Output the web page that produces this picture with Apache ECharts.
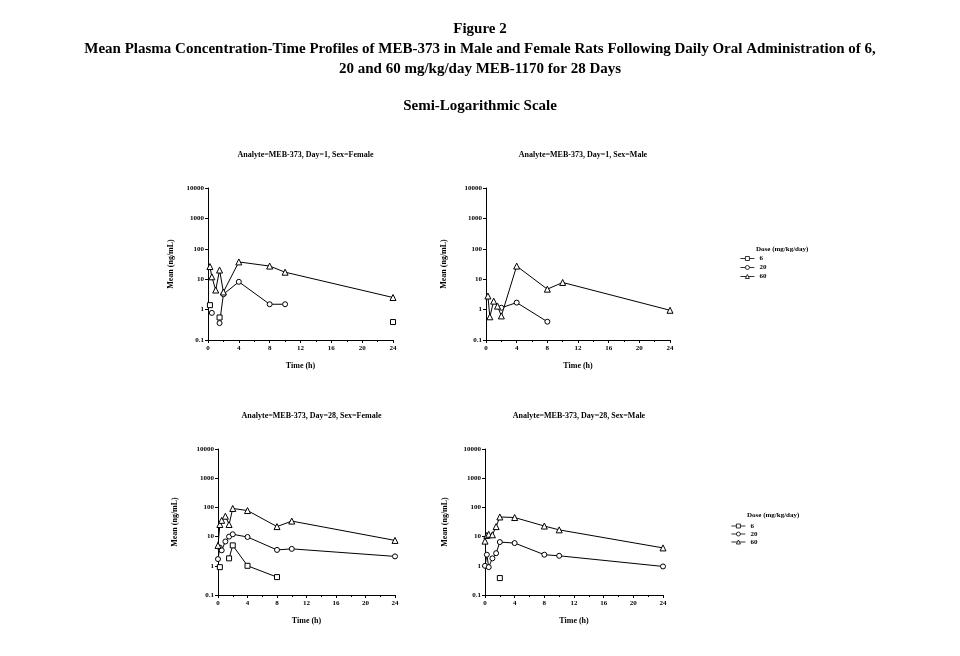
<!DOCTYPE html>
<html><head><meta charset="utf-8">
<script src="https://cdn.jsdelivr.net/npm/echarts@6/dist/echarts.min.js"></script>
<style>html,body{margin:0;padding:0;background:#fff}#c{width:960px;height:656px}</style>
</head><body><div id="c"></div>
<script>
// Sampling times (h)
const times = [0, 0.25, 0.5, 1, 1.5, 2, 4, 8, 10, 24];
const doseNames = ['6', '20', '60'];
const panelTitles = [
  'Analyte=MEB-373, Day=1, Sex=Female',
  'Analyte=MEB-373, Day=1, Sex=Male',
  'Analyte=MEB-373, Day=28, Sex=Female',
  'Analyte=MEB-373, Day=28, Sex=Male'
];
const xTicks = [0, 4, 8, 12, 16, 20, 24];
const yTicks = [0.1, 1, 10, 100, 1000, 10000];
// Day 1 Female
const d1f6  = [null, 1.4, null, null, 0.55, null, null, null, null, 0.39];
const d1f20 = [null, null, 0.78, null, 0.36, 3.2, 8.2, 1.5, 1.5, null];
const d1f60 = [null, 26, 12, 4.4, 20, 3.8, 37, 27, 17, 2.5];
// Day 1 Male
const d1m6  = [null, null, null, null, null, null, null, null, null, null];
const d1m20 = [null, null, null, null, null, 1.15, 1.7, 0.4, null, null];
const d1m60 = [null, 2.8, 0.58, 1.9, 1.3, 0.62, 27, 4.7, 7.8, 0.95];
// Day 28 Female
const d28f6  = [null, 0.9, null, null, 1.8, 5.0, 1.0, 0.41, null, null];
const d28f20 = [1.7, 4.2, 3.4, 6.8, 10, 12, 9.7, 3.5, 3.8, 2.1];
const d28f60 = [5.0, 26, 36, 50, 26, 92, 78, 22, 34, 7.4];
// Day 28 Male
const d28m6  = [null, null, null, null, null, 0.38, null, null, null, null];
const d28m20 = [1.0, 2.4, 0.9, 1.8, 2.7, 6.5, 6.0, 2.4, 2.2, 0.95];
const d28m60 = [7.0, 11, 12, 11.5, 22, 47, 45, 23, 17, 4.1];

const panels = [[d1f6, d1f20, d1f60], [d1m6, d1m20, d1m60], [d28f6, d28f20, d28f60], [d28m6, d28m20, d28m60]];
const grids = [
  {left: 208, top: 188, width: 185, height: 152, yGap: 33},
  {left: 486, top: 188, width: 184, height: 152, yGap: 38},
  {left: 218, top: 449, width: 177, height: 146, yGap: 39},
  {left: 485, top: 449, width: 178, height: 146, yGap: 36}
];
const FONT = '"Liberation Serif", "Times New Roman", serif';
const symbols = ['rect', 'circle', 'triangle'];

const chart = echarts.init(document.getElementById('c'), null, {renderer: 'canvas'});
const big = {fontFamily: FONT, fontSize: 15, fontWeight: 'bold', color: '#000'};
const titles = [
  {text: 'Figure 2', left: 'center', top: 17, textStyle: big},
  {text: 'Mean Plasma Concentration-Time Profiles of MEB-373 in Male and Female Rats Following Daily Oral Administration of 6,', left: 'center', top: 37, textStyle: big},
  {text: '20 and 60 mg/kg/day MEB-1170 for 28 Days', left: 'center', top: 57, textStyle: big},
  {text: 'Semi-Logarithmic Scale', left: 'center', top: 94, textStyle: big},
  {text: 'Dose (mg/kg/day)', left: 751, top: 241, textStyle: {fontFamily: FONT, fontSize: 7, fontWeight: 'bold', color: '#000'}},
  {text: 'Dose (mg/kg/day)', left: 742, top: 507, textStyle: {fontFamily: FONT, fontSize: 7, fontWeight: 'bold', color: '#000'}}
];
grids.forEach((g, i) => {
  titles.push({text: panelTitles[i], left: g.left + g.width / 2, top: (i < 2 ? 146 : 407), textAlign: 'center',
    textStyle: {fontFamily: FONT, fontSize: 8, fontWeight: 'bold', color: '#000'}});
});

const axisText = {fontFamily: FONT, fontSize: 7, fontWeight: 'bold', color: '#000'};
const nameText = {fontFamily: FONT, fontSize: 8, fontWeight: 'bold', color: '#000'};
const legendCommon = {orient: 'vertical', itemWidth: 14, itemHeight: 5, itemGap: 0, selectedMode: false,
  itemStyle: {color: '#fff', borderColor: '#000', borderWidth: 0.8},
  lineStyle: {color: '#000', width: 0.8}};
const option = {
  backgroundColor: '#fff',
  animation: false,
  title: titles,
  grid: grids.map(g => ({left: g.left, top: g.top, width: g.width, height: g.height, containLabel: false})),
  xAxis: grids.map((g, i) => ({
    type: 'value', gridIndex: i, min: 0, max: 24, interval: 4,
    name: 'Time (h)', nameLocation: 'middle', nameGap: 22, nameTextStyle: nameText,
    axisLine: {show: true, onZero: false, lineStyle: {color: '#000', width: 1}},
    axisTick: {show: true, length: 3, lineStyle: {color: '#000'}},
    minorTick: {show: true, splitNumber: 2, length: 2, lineStyle: {color: '#000'}},
    axisLabel: {...axisText, margin: 5, formatter: v => xTicks.includes(v) ? String(v) : ''},
    splitLine: {show: false}
  })),
  yAxis: grids.map((g, i) => ({
    type: 'log', logBase: 10, gridIndex: i, min: 0.1, max: 10000,
    name: 'Mean (ng/mL)', nameLocation: 'middle', nameGap: g.yGap, nameTextStyle: nameText,
    axisLine: {show: true, lineStyle: {color: '#000', width: 1}},
    axisTick: {show: true, length: 3, lineStyle: {color: '#000'}},
    axisLabel: {...axisText, margin: 4, formatter: v => {
      const m = yTicks.find(t => Math.abs(Math.log10(t) - Math.log10(v)) < 1e-6);
      return m === undefined ? '' : String(m);
    }},
    splitLine: {show: false}
  })),
  legend: [
    {...legendCommon, data: doseNames, left: 735, top: 249, textStyle: {...axisText, lineHeight: 9}},
    {...legendCommon, data: doseNames, left: 726, top: 517, textStyle: {...axisText, lineHeight: 8}}
  ],
  series: []
};
panels.forEach((arrs, p) => {
  arrs.forEach((vals, k) => {
    option.series.push({
      type: 'line', name: doseNames[k], xAxisIndex: p, yAxisIndex: p,
      data: times.map((t, j) => [t, vals[j] == null ? '-' : vals[j]]),
      connectNulls: false,
      symbol: symbols[k], symbolSize: k === 2 ? 6 : 5, showSymbol: true,
      lineStyle: {color: '#000', width: 1},
      itemStyle: {color: '#fff', borderColor: '#000', borderWidth: 1},
      emphasis: {disabled: true}
    });
  });
});
chart.setOption(option);
</script>
</body></html>
